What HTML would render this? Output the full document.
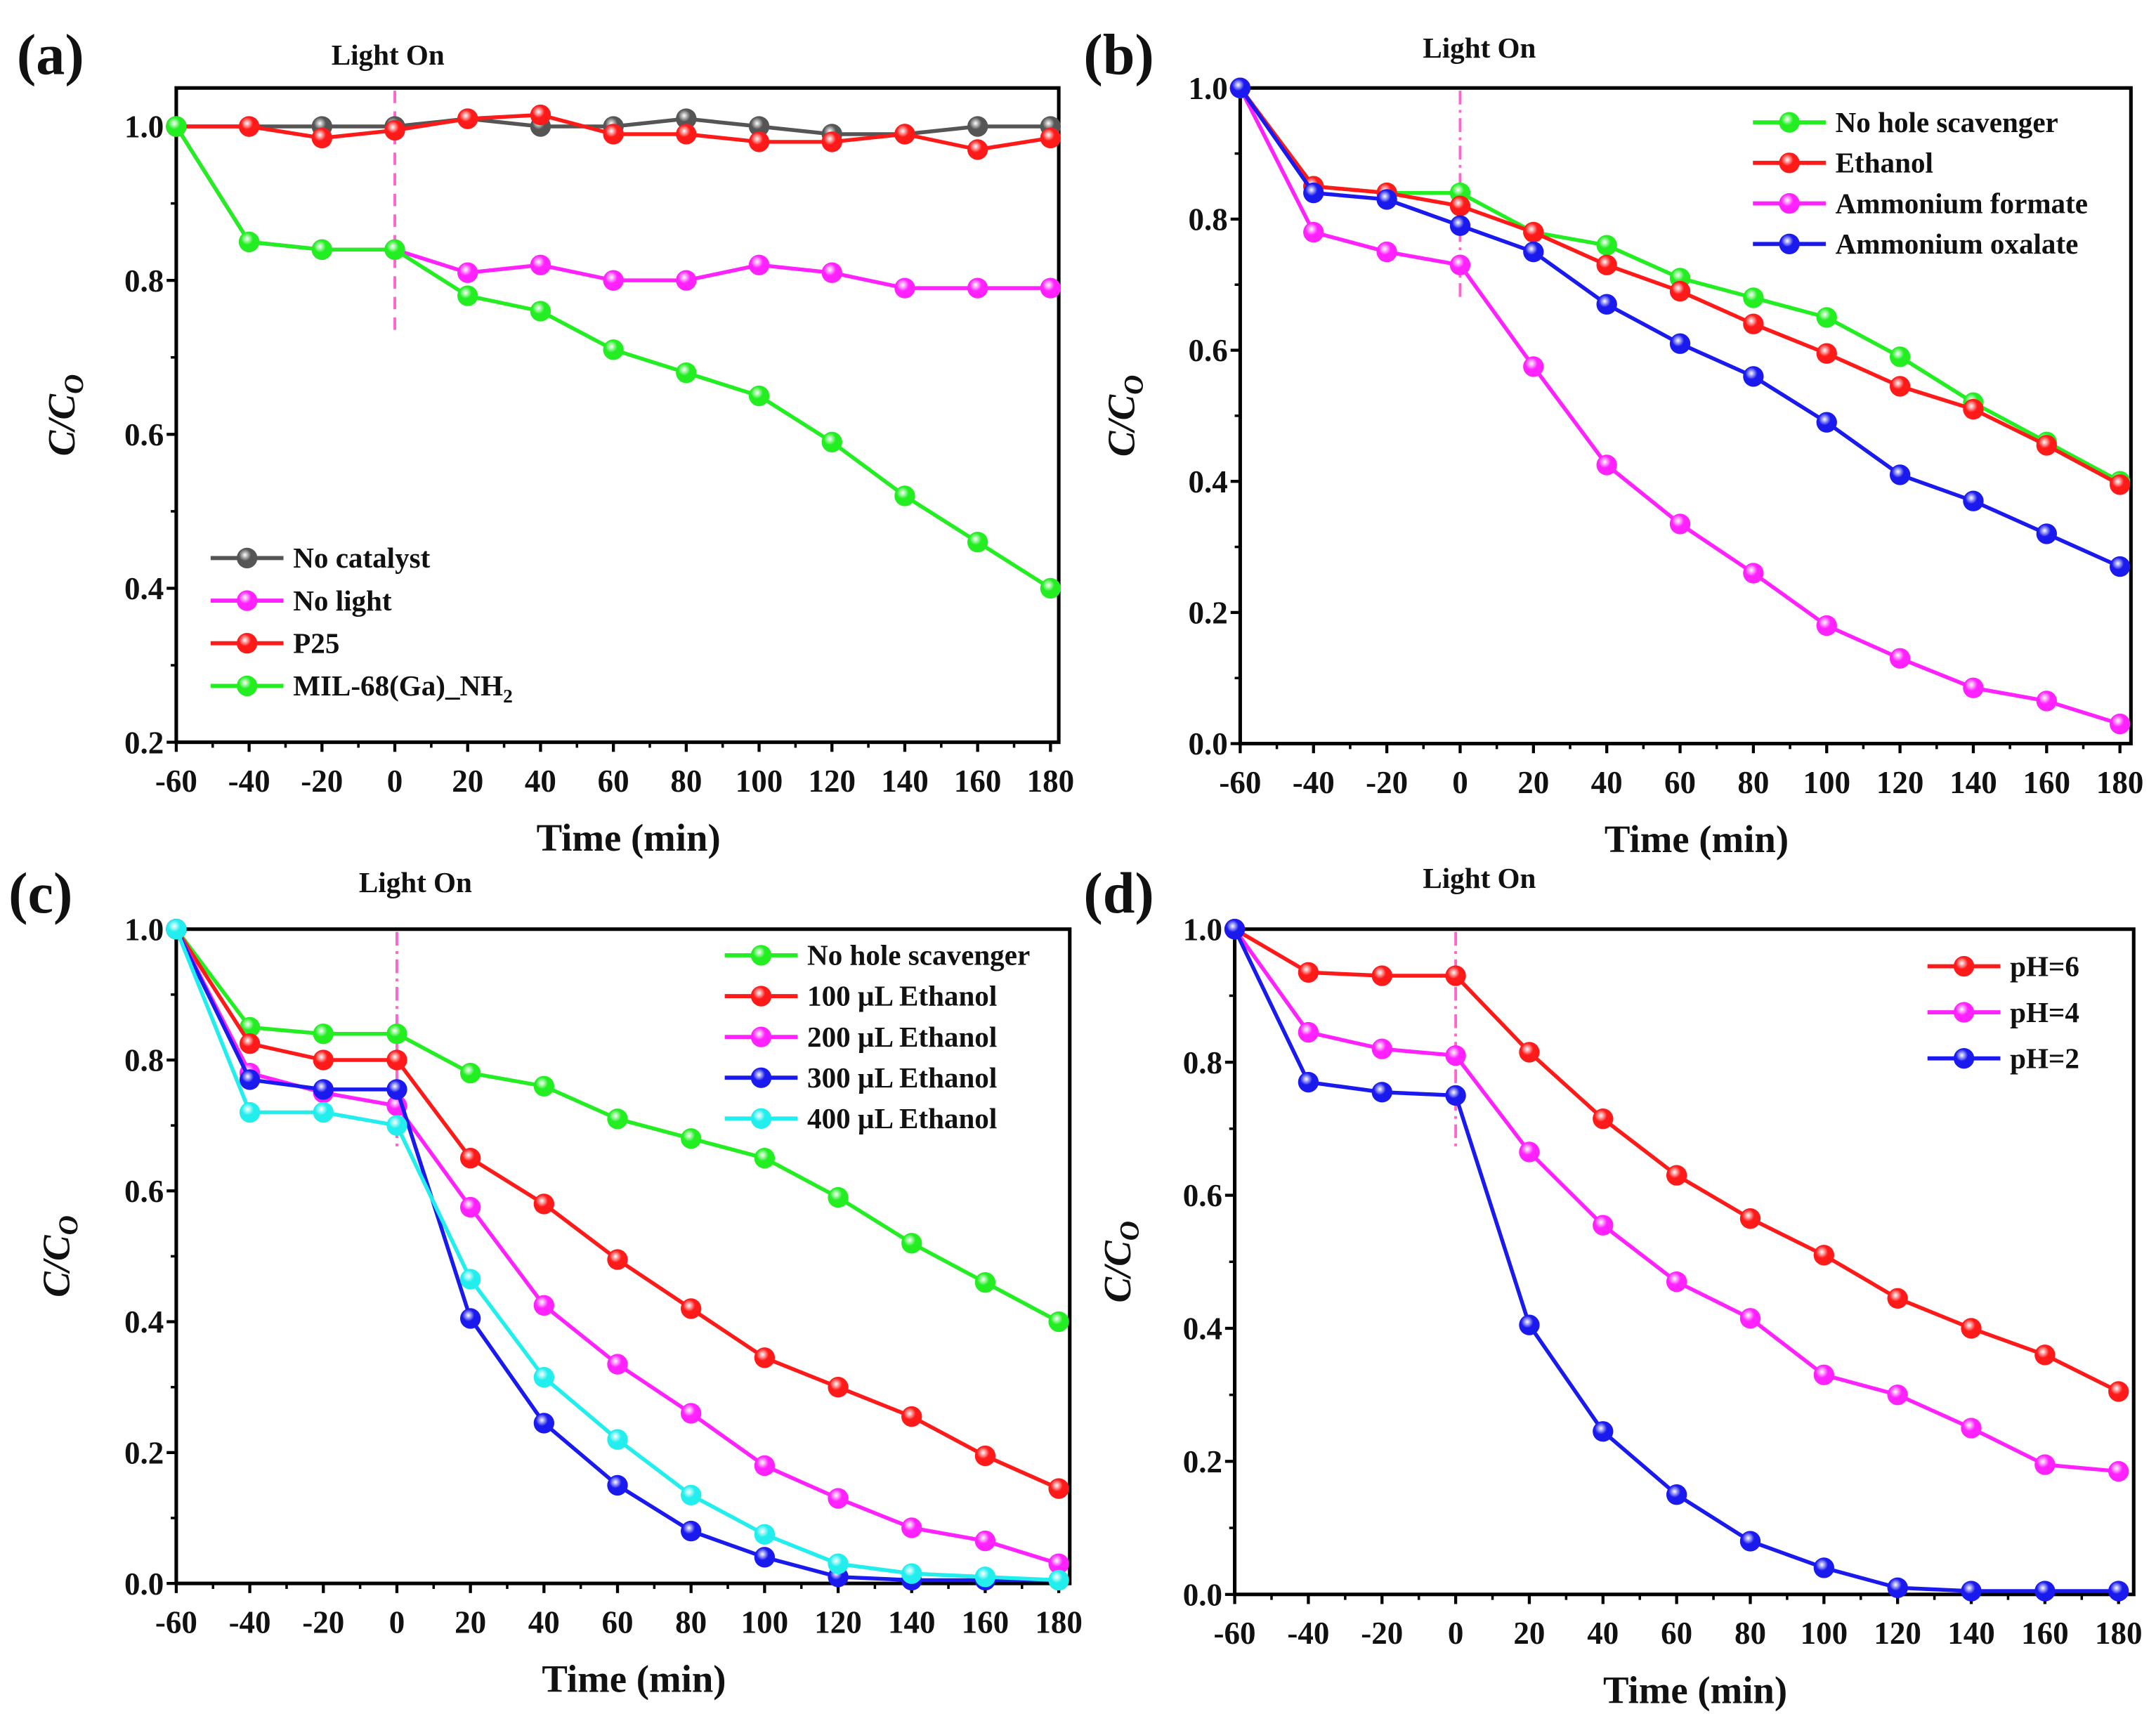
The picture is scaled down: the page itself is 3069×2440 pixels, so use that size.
<!DOCTYPE html>
<html><head><meta charset="utf-8">
<style>
html,body{margin:0;padding:0;background:#fff;}
svg{display:block;}
text{font-family:"Liberation Serif",serif;font-weight:bold;fill:#111;}
</style></head>
<body>
<svg id="fig" width="3069" height="2440" viewBox="0 0 1568 1247" xmlns="http://www.w3.org/2000/svg">
<defs id="defs"></defs>
</svg>
<script>
const xTicks = [-60,-40,-20,0,20,40,60,80,100,120,140,160,180];
const times = [-60,-40,-20,0,20,40,60,80,100,120,140,160,180];

const aNoCatalyst = [1,1,1,1,1.01,1.0,1.0,1.01,1.0,0.99,0.99,1.0,1.0];
const aNoLight = [1,0.85,0.84,0.84,0.81,0.82,0.80,0.80,0.82,0.81,0.79,0.79,0.79];
const aP25 = [1,1,0.985,0.995,1.01,1.015,0.99,0.99,0.98,0.98,0.99,0.97,0.985];
const aMIL = [1,0.85,0.84,0.84,0.78,0.76,0.71,0.68,0.65,0.59,0.52,0.46,0.40];

const bNoHole = [1,0.85,0.84,0.84,0.78,0.76,0.71,0.68,0.65,0.59,0.52,0.46,0.40];
const bEthanol = [1,0.85,0.84,0.82,0.78,0.73,0.69,0.64,0.595,0.545,0.51,0.455,0.395];
const bFormate = [1,0.78,0.75,0.73,0.575,0.425,0.335,0.26,0.18,0.13,0.085,0.065,0.03];
const bOxalate = [1,0.84,0.83,0.79,0.75,0.67,0.61,0.56,0.49,0.41,0.37,0.32,0.27];

const cNoHole = [1,0.85,0.84,0.84,0.78,0.76,0.71,0.68,0.65,0.59,0.52,0.46,0.40];
const c100 = [1,0.825,0.80,0.80,0.65,0.58,0.495,0.42,0.345,0.30,0.255,0.195,0.145];
const c200 = [1,0.78,0.75,0.73,0.575,0.425,0.335,0.26,0.18,0.13,0.085,0.065,0.03];
const c300 = [1,0.77,0.755,0.755,0.405,0.245,0.15,0.08,0.04,0.01,0.005,0.005,0.005];
const c400 = [1,0.72,0.72,0.70,0.465,0.315,0.22,0.135,0.075,0.03,0.015,0.01,0.005];

const dpH6 = [1,0.935,0.93,0.93,0.815,0.715,0.63,0.565,0.51,0.445,0.40,0.36,0.305];
const dpH4 = [1,0.845,0.82,0.81,0.665,0.555,0.47,0.415,0.33,0.30,0.25,0.195,0.185];
const dpH2 = [1,0.77,0.755,0.75,0.405,0.245,0.15,0.08,0.04,0.01,0.005,0.005,0.005];

const yTicksA = [0.2,0.4,0.6,0.8,1.0];
const yTicksB = [0.0,0.2,0.4,0.6,0.8,1.0];

const NS = "http://www.w3.org/2000/svg";
const svg = document.getElementById('fig');
const defs = document.getElementById('defs');
function el(tag, attrs, parent){
  const e = document.createElementNS(NS, tag);
  for (const k in attrs) e.setAttribute(k, attrs[k]);
  (parent||svg).appendChild(e);
  return e;
}
const colors = {gray:'#555555',magenta:'#ff22ff',red:'#ff1a1a',green:'#22ee22',blue:'#1a1aee',cyan:'#22eeee'};
for (const k in colors){
  const g = el('radialGradient',{id:'g-'+k,cx:'0.4',cy:'0.35',r:'0.65'},defs);
  el('stop',{offset:'0','stop-color':'#ffffff'},g);
  el('stop',{offset:'0.45','stop-color':colors[k]},g);
  el('stop',{offset:'1','stop-color':colors[k]},g);
}

function panel(cfg){
  const g = el('g',{});
  
  
  const sx = v => cfg.x0 + (v - (-60)) / 240 * (cfg.x180 - cfg.x0);
  const sy = v => cfg.yBot - (v - cfg.yMin) / (cfg.yTop - cfg.yMin) * (cfg.yBot - cfg.top);
  const fr = el('rect',{x:cfg.left,y:cfg.top,width:cfg.right-cfg.left,height:cfg.bottom-cfg.top,fill:'none',stroke:'#000','stroke-width':2.6},g);
  
  
  xTicks.forEach(t=>{
    const x = sx(t);
    el('line',{x1:x,x2:x,y1:cfg.bottom,y2:cfg.bottom+7,stroke:'#000','stroke-width':2.2},g);
    const xm = sx(t+10);
    if (t<180) el('line',{x1:xm,x2:xm,y1:cfg.bottom,y2:cfg.bottom+4,stroke:'#000','stroke-width':1.8},g);
    const tx = el('text',{x:x,y:cfg.bottom+36,'text-anchor':'middle','font-size':23},g);
    tx.textContent = t;
    
    
  });
  cfg.yTicks.forEach((t,i)=>{
    const y = sy(t);
    el('line',{x1:cfg.left-7,x2:cfg.left,y1:y,y2:y,stroke:'#000','stroke-width':2.2},g);
    if (i < cfg.yTicks.length-1){
      const ym = sy(t+0.1);
      el('line',{x1:cfg.left-4,x2:cfg.left,y1:ym,y2:ym,stroke:'#000','stroke-width':1.8},g);
    }
    const ty = el('text',{x:cfg.left-9,y:y+8,'text-anchor':'end','font-size':23},g);
    ty.textContent = t.toFixed(1);
    
    
  });
  const dl = el('line',{x1:sx(0),x2:sx(0),y1:cfg.top+2,y2:cfg.dashEnd,stroke:'#ff66cc','stroke-width':2,'stroke-dasharray':cfg.dashStyle},g);
  
  
  cfg.series.forEach(s=>{
    const sg = el('g',{},g);
    
    
    const pts = times.map((t,i)=>sx(t)+','+sy(s.data[i])).join(' ');
    el('polyline',{points:pts,fill:'none',stroke:colors[s.color],'stroke-width':2.8},sg);
    times.forEach((t,i)=>{
      const c = el('circle',{cx:sx(t),cy:sy(s.data[i]),r:7.5,fill:'url(#g-'+s.color+')'},sg);
      
      
    });
  });
  const lg = el('g',{},g);
  
  
  cfg.series.forEach((s,i)=>{
    const y = cfg.legY + i*cfg.legDy;
    const eg = el('g',{},lg);
    
    
    el('line',{x1:cfg.legX,x2:cfg.legX+53,y1:y,y2:y,stroke:colors[s.color],'stroke-width':3},eg);
    el('circle',{cx:cfg.legX+26.5,cy:y,r:7.5,fill:'url(#g-'+s.color+')'},eg);
    const t = el('text',{x:cfg.legX+60,y:y+7,'font-size':21},eg);
    t.innerHTML = s.label;
  });
  const lo = el('text',{x:cfg.lightX,y:cfg.lightY,'text-anchor':'middle','font-size':21},g);
  lo.textContent = 'Light On';
  
  
  const pl = el('text',{x:cfg.letterX,y:cfg.letterY,'font-size':42},g);
  pl.textContent = '('+cfg.id+')';
  
  
  const xt = el('text',{x:(cfg.left+cfg.right)/2+8,y:cfg.bottom+79,'text-anchor':'middle','font-size':28},g);
  xt.textContent = 'Time (min)';
  
  
  const yc = (cfg.top+cfg.bottom)/2;
  const yt = el('text',{x:cfg.yTitleX,y:yc,'text-anchor':'middle','font-size':28,'font-style':'italic',transform:'rotate(-90 '+cfg.yTitleX+' '+yc+')'},g);
  yt.innerHTML = 'C/C<tspan font-size="20" dy="6">O</tspan>';
  
  
}

panel({id:'a',left:128,right:770,top:64,bottom:540,x0:128,x180:764,yMin:0.2,yTop:1.05,yBot:540,yTicks:yTicksA,
  dashEnd:240,dashStyle:'9,6',legX:153,legY:406,legDy:31,lightX:282,lightY:47,letterX:12,letterY:54,yTitleX:54,
  series:[
    {key:'no-catalyst',label:'No catalyst',color:'gray',data:aNoCatalyst},
    {key:'no-light',label:'No light',color:'magenta',data:aNoLight},
    {key:'p25',label:'P25',color:'red',data:aP25},
    {key:'mil68',label:'MIL-68(Ga)_NH<tspan font-size="14" dy="5">2</tspan>',color:'green',data:aMIL}
  ]});
panel({id:'b',left:902,right:1550,top:64,bottom:541,x0:902,x180:1542,yMin:0,yTop:1.0,yBot:541,yTicks:yTicksB,
  dashEnd:220,dashStyle:'10,4,2,4',legX:1275,legY:89,legDy:29.5,lightX:1076,lightY:42,letterX:788,letterY:54,yTitleX:825,
  series:[
    {key:'no-hole-scavenger',label:'No hole scavenger',color:'green',data:bNoHole},
    {key:'ethanol',label:'Ethanol',color:'red',data:bEthanol},
    {key:'ammonium-formate',label:'Ammonium formate',color:'magenta',data:bFormate},
    {key:'ammonium-oxalate',label:'Ammonium oxalate',color:'blue',data:bOxalate}
  ]});
panel({id:'c',left:128,right:778,top:676,bottom:1152,x0:128,x180:770,yMin:0,yTop:1.0,yBot:1152,yTicks:yTicksB,
  dashEnd:835,dashStyle:'10,4,2,4',legX:527,legY:695,legDy:29.7,lightX:302,lightY:649,letterX:6,letterY:664,yTitleX:50,
  series:[
    {key:'no-hole-scavenger',label:'No hole scavenger',color:'green',data:cNoHole},
    {key:'ethanol-100',label:'100 µL Ethanol',color:'red',data:c100},
    {key:'ethanol-200',label:'200 µL Ethanol',color:'magenta',data:c200},
    {key:'ethanol-300',label:'300 µL Ethanol',color:'blue',data:c300},
    {key:'ethanol-400',label:'400 µL Ethanol',color:'cyan',data:c400}
  ]});
panel({id:'d',left:898,right:1552,top:676,bottom:1160,x0:898,x180:1541,yMin:0,yTop:1.0,yBot:1160,yTicks:yTicksB,
  dashEnd:835,dashStyle:'10,4,2,4',legX:1402,legY:703,legDy:33.5,lightX:1076,lightY:646,letterX:788,letterY:664,yTitleX:822,
  series:[
    {key:'ph6',label:'pH=6',color:'red',data:dpH6},
    {key:'ph4',label:'pH=4',color:'magenta',data:dpH4},
    {key:'ph2',label:'pH=2',color:'blue',data:dpH2}
  ]});
</script>
</body></html>
